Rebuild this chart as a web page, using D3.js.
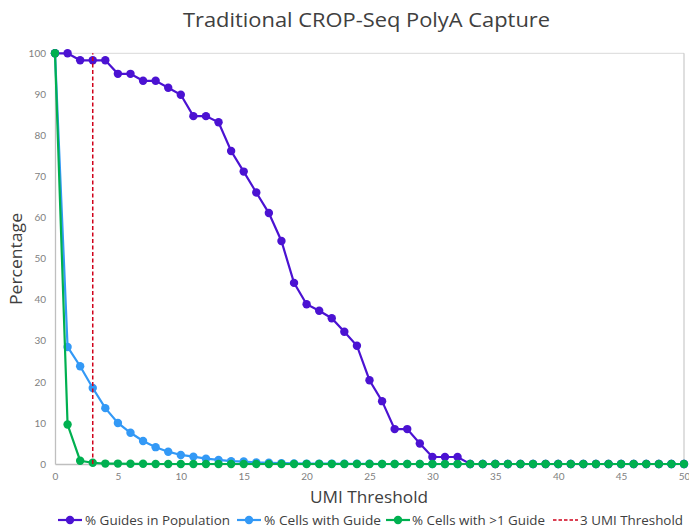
<!DOCTYPE html>
<html><head><meta charset="utf-8">
<script src="https://cdn.jsdelivr.net/npm/d3@7"></script>
<style>body{margin:0;background:#fff;} svg{display:block;font-family:"Open Sans","Noto Sans",sans-serif;}</style>
</head><body>
<svg id="chart" width="689" height="527"></svg>
<script>
const umi = d3.range(0, 51);
const guidesInPopulation = [100,100,98.3,98.3,98.3,95,95,93.3,93.3,91.6,89.9,84.7,84.7,83.2,76.2,71.2,66.1,61.1,54.3,44.1,38.9,37.3,35.5,32.2,28.8,20.4,15.3,8.5,8.5,5.0,1.7,1.7,1.7,0,0,0,0,0,0,0,0,0,0,0,0,0,0,0,0,0,0];
const cellsWithGuide = [100,28.5,23.8,18.5,13.6,10.0,7.6,5.6,4.1,3.0,2.2,1.8,1.3,1.0,0.7,0.6,0.4,0.3,0.2,0.15,0.1,0.1,0.1,0.05,0.05,0.05,0,0,0,0,0,0,0,0,0,0,0,0,0,0,0,0,0,0,0,0,0,0,0,0,0];
const cellsMultiGuide = [100,9.6,0.8,0.3,0.1,0.1,0.05,0.05,0,0,0,0,0,0,0,0,0,0,0,0,0,0,0,0,0,0,0,0,0,0,0,0,0,0,0,0,0,0,0,0,0,0,0,0,0,0,0,0,0,0,0];
const thresholdX = 3;
const xTicks = [0,5,10,15,20,25,30,35,40,45,50];
const yTicks = [0,10,20,30,40,50,60,70,80,90,100];
const seriesNames = ["% Guides in Population","% Cells with Guide","% Cells with >1 Guide","3 UMI Threshold"];
const colors = ["#4B12D2","#3399F6","#00B050","#D0021B"];

const svg = d3.select("#chart");
const x = d3.scaleLinear().domain([0,50]).range([55,684]);
const y = d3.scaleLinear().domain([0,100]).range([464,53.3]);

// title
svg.append("text").attr("x",183).attr("y",27)
  .attr("font-size",20).attr("fill","#404040")
  .attr("textLength",367).attr("lengthAdjust","spacingAndGlyphs")
  .text("Traditional CROP-Seq PolyA Capture");

// top gridline
svg.append("line").attr("x1",x(0)).attr("x2",x(50)).attr("y1",y(100)).attr("y2",y(100))
  .attr("stroke","#d9d9d9").attr("stroke-width",1);

// y axis
const yAxis = svg.append("g").attr("transform",`translate(${x(0)},0)`)
  .call(d3.axisLeft(y).tickValues(yTicks).tickSize(0).tickPadding(9));
yAxis.select(".domain").attr("stroke","#bfbfbf").attr("stroke-width",1.3);
yAxis.selectAll("text").attr("font-size",10).attr("fill","#7f7f7f").attr("font-family","Lato, sans-serif");
// right line
svg.append("line").attr("x1",x(50)).attr("x2",x(50)).attr("y1",y(100)).attr("y2",y(0))
  .attr("stroke","#bfbfbf").attr("stroke-width",1);

// x axis
const xAxis = svg.append("g").attr("transform",`translate(0,${y(0)})`)
  .call(d3.axisBottom(x).tickValues(xTicks).tickSize(0).tickPadding(9));
xAxis.select(".domain").attr("stroke","#bfbfbf").attr("stroke-width",1.3);
xAxis.selectAll("text").attr("font-size",10).attr("fill","#7f7f7f").attr("font-family","Lato, sans-serif");

// axis titles
svg.append("text").attr("transform",`translate(22,305) rotate(-90)`)
  .attr("font-size",16).attr("fill","#404040")
  .attr("textLength",92).attr("lengthAdjust","spacingAndGlyphs").text("Percentage");
svg.append("text").attr("x",310).attr("y",503)
  .attr("font-size",16).attr("fill","#404040")
  .attr("textLength",118).attr("lengthAdjust","spacingAndGlyphs").text("UMI Threshold");

// series
const line = d3.line().x((d,i)=>x(umi[i])).y(d=>y(d));
const seriesData = [guidesInPopulation, cellsWithGuide, cellsMultiGuide];
[1,0,2].forEach(k=>{
  const g = svg.append("g");
  g.append("path").datum(seriesData[k]).attr("d",line).attr("fill","none")
    .attr("stroke",colors[k]).attr("stroke-width",2.2);
  g.selectAll("circle").data(seriesData[k]).join("circle")
    .attr("cx",(d,i)=>x(umi[i])).attr("cy",d=>y(d)).attr("r",4.2).attr("fill",colors[k]);
});

// threshold
svg.append("line").attr("x1",x(thresholdX)).attr("x2",x(thresholdX)).attr("y1",y(0)).attr("y2",y(100))
  .attr("stroke",colors[3]).attr("stroke-width",1.5).attr("stroke-dasharray","4,2.5");

// legend
const legendPos = [{lx:58,tx:85,w:145},{lx:237,tx:264,w:117},{lx:386,tx:412,w:133},{lx:553,tx:580,w:103}];
const ly = 520;
seriesNames.forEach((name,i)=>{
  const p = legendPos[i];
  const g = svg.append("g");
  if(i<3){
    g.append("line").attr("x1",p.lx).attr("x2",p.lx+24).attr("y1",ly).attr("y2",ly)
      .attr("stroke",colors[i]).attr("stroke-width",2.2);
    g.append("circle").attr("cx",p.lx+12).attr("cy",ly).attr("r",4.2).attr("fill",colors[i]);
  } else {
    g.append("line").attr("x1",p.lx).attr("x2",p.lx+25).attr("y1",ly).attr("y2",ly)
      .attr("stroke",colors[i]).attr("stroke-width",1.5).attr("stroke-dasharray","3.5,2");
  }
  g.append("text").attr("x",p.tx).attr("y",ly+4.5).attr("font-size",12.5).attr("fill","#404040")
    .attr("textLength",p.w).attr("lengthAdjust","spacingAndGlyphs").text(name);
});
</script>
</body></html>
